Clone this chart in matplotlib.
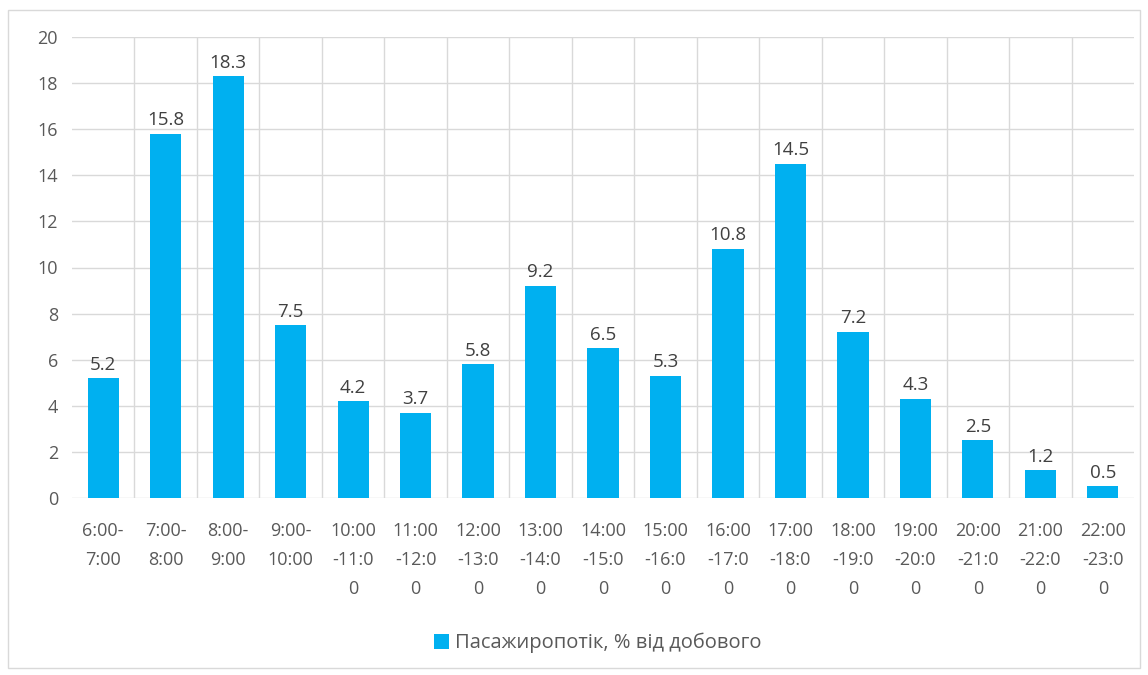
import matplotlib.pyplot as plt
from matplotlib.patches import Rectangle
import numpy as np

# погодинний розподіл пасажиропотоку
intervals = ["6:00-\n7:00", "7:00-\n8:00", "8:00-\n9:00", "9:00-\n10:00",
             "10:00\n-11:0\n0", "11:00\n-12:0\n0", "12:00\n-13:0\n0", "13:00\n-14:0\n0",
             "14:00\n-15:0\n0", "15:00\n-16:0\n0", "16:00\n-17:0\n0", "17:00\n-18:0\n0",
             "18:00\n-19:0\n0", "19:00\n-20:0\n0", "20:00\n-21:0\n0", "21:00\n-22:0\n0",
             "22:00\n-23:0\n0"]
share = [5.2, 15.8, 18.3, 7.5, 4.2, 3.7, 5.8, 9.2, 6.5, 5.3, 10.8, 14.5, 7.2, 4.3, 2.5, 1.2, 0.5]
yticks = [0, 2, 4, 6, 8, 10, 12, 14, 16, 18, 20]
series_name = "Пасажиропотік, % від добового"

plt.rcParams['font.family'] = ['Open Sans', 'DejaVu Sans']
text_col = "#595959"
grid_col = "#D9D9D9"
bar_col = "#00B0F0"

fig = plt.figure(figsize=(11.48, 6.75), dpi=100)
# рамка навколо діаграми
fig.patches.append(Rectangle((8 / 1148, 7 / 675), 1132 / 1148, 658 / 675,
                             transform=fig.transFigure, fill=False,
                             edgecolor=grid_col, linewidth=1.0))

ax = fig.add_axes([72 / 1148, 177 / 675, 1062 / 1148, 461 / 675])

x = np.arange(len(share))
bars = ax.bar(x, share, width=0.5, color=bar_col, zorder=3, label=series_name)

for xi, v in zip(x, share):
    ax.text(xi, v + 0.2, f"{v}", ha="center", va="bottom", fontsize=13.5, color="#404040")

ax.set_xlim(-0.5, len(share) - 0.5)
ax.set_ylim(0, 20)
ax.set_yticks(yticks)
ax.set_yticklabels([str(t) for t in yticks])

# сітка: горизонтальні лінії та вертикальні між категоріями
for t in yticks:
    ax.axhline(t, color=grid_col, linewidth=1.0, zorder=1)
for b in x[:-1] + 0.5:
    ax.plot([b, b], [0, 20], color=grid_col, linewidth=1.0, zorder=1)

ax.set_xticks(x)
ax.set_xticklabels(intervals, linespacing=1.8, va="top")
ax.tick_params(axis="both", length=0, colors=text_col, labelsize=13)
ax.tick_params(axis="x", pad=17)
ax.tick_params(axis="y", pad=10)
for s in ax.spines.values():
    s.set_visible(False)

fig.legend(handles=[bars], labels=[series_name], loc="center",
           bbox_to_anchor=(598 / 1148, 1 - 643 / 675), frameon=False,
           fontsize=14.5, labelcolor=text_col, handlelength=0.75, handleheight=0.75,
           handletextpad=0.3)

fig.savefig("out.png", dpi=100)
